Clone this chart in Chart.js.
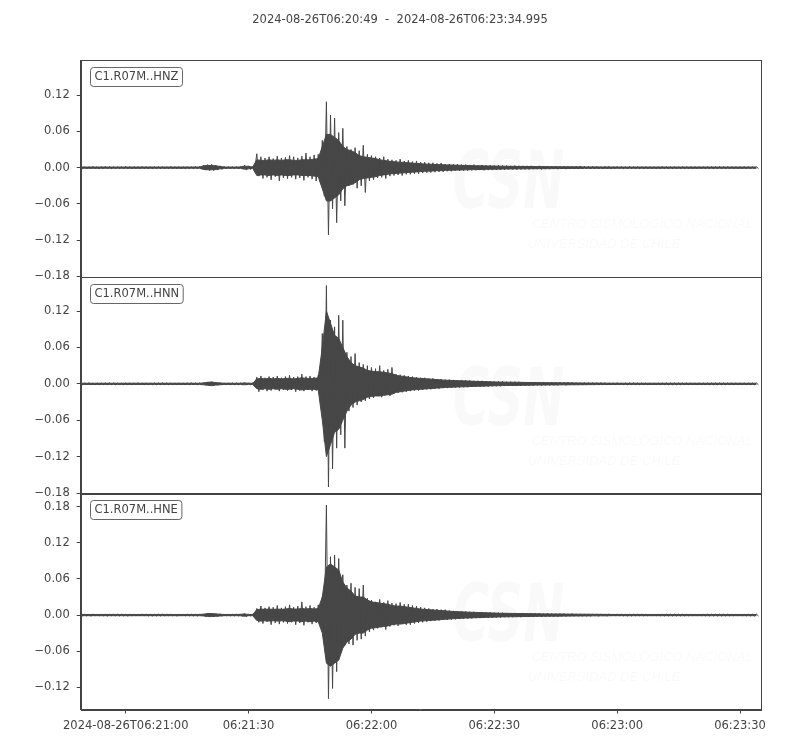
<!DOCTYPE html>
<html>
<head>
<meta charset="utf-8">
<title>C1.R07M seismogram</title>
<script src="https://cdn.jsdelivr.net/npm/chart.js"></script>
<style>
  body { margin: 0; background: #fff; }
  #wrap { width: 800px; height: 750px; }
</style>
</head>
<body>
<div id="wrap"><canvas id="traces" width="800" height="750"></canvas></div>
<script>
// seconds after 2024-08-26T06:20:49
// *Up / *Low: biggest swing up and down in each second
// *Core: half width of the dense part of the trace in that second
const title = '2024-08-26T06:20:49  -  2024-08-26T06:23:34.995';
const traceNames = ['C1.R07M..HNZ', 'C1.R07M..HNN', 'C1.R07M..HNE'];
const xTickSec = [11, 41, 71, 101, 131, 161];
const xTickLabels = ['2024-08-26T06:21:00', '06:21:30', '06:22:00', '06:22:30', '06:23:00', '06:23:30'];
const zTicks = [-0.18, -0.12, -0.06, 0, 0.06, 0.12];
const nTicks = [-0.18, -0.12, -0.06, 0, 0.06, 0.12];
const eTicks = [-0.12, -0.06, 0, 0.06, 0.12, 0.18];

const hnzUp = [
  0.002,0.0015,0.0015,0.002,0.0015,0.0015,0.002,0.0015,0.0015,0.0015,
  0.0015,0.002,0.0015,0.0015,0.0015,0.002,0.0015,0.0015,0.0015,0.0015,
  0.0015,0.0015,0.002,0.0015,0.0015,0.0015,0.0015,0.0015,0.002,0.002,
  0.004,0.005,0.0055,0.004,0.003,0.002,0.0015,0.0015,0.0015,0.002,
  0.004,0.003,0.002,0.023,0.018,0.016,0.018,0.015,0.019,0.016,
  0.017,0.02,0.018,0.016,0.019,0.024,0.018,0.021,0.022,0.045,
  0.109,0.087,0.082,0.058,0.065,0.035,0.03,0.033,0.028,0.037,
  0.022,0.02,0.018,0.016,0.018,0.014,0.013,0.012,0.014,0.011,
  0.012,0.01,0.011,0.009,0.009,0.008,0.008,0.007,0.0075,0.006,
  0.006,0.0055,0.006,0.005,0.005,0.0045,0.005,0.004,0.0045,0.004,
  0.004,0.0035,0.004,0.0035,0.0035,0.003,0.0035,0.003,0.003,0.003,
  0.003,0.0025,0.003,0.0025,0.0025,0.0025,0.0025,0.002,0.0025,0.002,
  0.002,0.002,0.0025,0.002,0.002,0.002,0.002,0.0015,0.002,0.002,
  0.0015,0.002,0.0015,0.0015,0.002,0.0015,0.0015,0.0015,0.0015,0.0015,
  0.0015,0.0015,0.002,0.0015,0.0015,0.0015,0.0015,0.0015,0.0015,0.0015,
  0.0015,0.0015,0.0015,0.0015,0.0015,0.0015,0.002,0.0015,0.0015,0.0015,
  0.0015,0.0015,0.0015,0.0015,0.0015,0.0015
];
const hnzLow = [
  -0.0015,-0.002,-0.0015,-0.0015,-0.002,-0.0015,-0.0015,-0.0015,-0.002,-0.0015,
  -0.0015,-0.0015,-0.002,-0.0015,-0.0015,-0.0015,-0.0015,-0.002,-0.0015,-0.0015,
  -0.002,-0.0015,-0.0015,-0.0015,-0.002,-0.0015,-0.0015,-0.0015,-0.0015,-0.002,
  -0.004,-0.005,-0.005,-0.004,-0.003,-0.002,-0.0015,-0.0015,-0.0015,-0.002,
  -0.004,-0.003,-0.002,-0.014,-0.018,-0.016,-0.02,-0.015,-0.022,-0.017,
  -0.018,-0.016,-0.019,-0.017,-0.021,-0.016,-0.019,-0.022,-0.024,-0.047,
  -0.111,-0.068,-0.091,-0.055,-0.063,-0.03,-0.028,-0.034,-0.03,-0.041,
  -0.022,-0.02,-0.017,-0.016,-0.018,-0.014,-0.013,-0.012,-0.013,-0.011,
  -0.011,-0.01,-0.01,-0.009,-0.0085,-0.008,-0.0075,-0.007,-0.007,-0.006,
  -0.006,-0.0055,-0.0055,-0.005,-0.005,-0.0045,-0.0045,-0.004,-0.0045,-0.004,
  -0.004,-0.0035,-0.0035,-0.0035,-0.003,-0.003,-0.0035,-0.003,-0.003,-0.003,
  -0.0025,-0.0025,-0.003,-0.0025,-0.0025,-0.002,-0.0025,-0.002,-0.0025,-0.002,
  -0.002,-0.002,-0.002,-0.002,-0.002,-0.0015,-0.002,-0.002,-0.0015,-0.002,
  -0.0015,-0.0015,-0.0015,-0.002,-0.0015,-0.0015,-0.0015,-0.0015,-0.0015,-0.0015,
  -0.0015,-0.0015,-0.0015,-0.0015,-0.0015,-0.002,-0.0015,-0.0015,-0.0015,-0.0015,
  -0.0015,-0.0015,-0.0015,-0.0015,-0.0015,-0.0015,-0.0015,-0.0015,-0.0015,-0.0015,
  -0.0015,-0.0015,-0.0015,-0.0015,-0.0015,-0.0015
];
const hnzCore = [
  0.001,0.001,0.001,0.001,0.001,0.001,0.001,0.001,0.001,0.001,
  0.001,0.001,0.001,0.001,0.001,0.001,0.001,0.001,0.001,0.001,
  0.001,0.001,0.001,0.001,0.001,0.001,0.001,0.001,0.001,0.001,
  0.003,0.0035,0.0035,0.003,0.002,0.001,0.001,0.001,0.001,0.0012,
  0.0025,0.002,0.001,0.013,0.012,0.012,0.013,0.012,0.013,0.012,
  0.013,0.013,0.012,0.012,0.013,0.013,0.013,0.014,0.015,0.035,
  0.055,0.055,0.05,0.045,0.035,0.03,0.028,0.025,0.02,0.018,
  0.017,0.016,0.015,0.013,0.012,0.011,0.01,0.0095,0.009,0.0085,
  0.008,0.0075,0.007,0.0065,0.006,0.0058,0.0055,0.005,0.005,0.0045,
  0.0045,0.0042,0.004,0.0038,0.0036,0.0034,0.0032,0.003,0.003,0.0028,
  0.0027,0.0026,0.0025,0.0024,0.0023,0.0022,0.0021,0.002,0.002,0.0019,
  0.0018,0.0018,0.0017,0.0017,0.0016,0.0016,0.0015,0.0015,0.0014,0.0014,
  0.0013,0.0013,0.0013,0.0012,0.0012,0.0012,0.0012,0.0011,0.0011,0.0011,
  0.001,0.001,0.001,0.001,0.001,0.001,0.001,0.001,0.001,0.001,
  0.001,0.001,0.001,0.001,0.001,0.001,0.001,0.001,0.001,0.001,
  0.001,0.001,0.001,0.001,0.001,0.001,0.001,0.001,0.001,0.001,
  0.001,0.001,0.001,0.001,0.001,0.001
];

const hnnUp = [
  0.0015,0.0015,0.002,0.0015,0.0015,0.0015,0.0015,0.002,0.0015,0.0015,
  0.0015,0.0015,0.0015,0.0015,0.002,0.0015,0.0015,0.0015,0.0015,0.0015,
  0.002,0.0015,0.0015,0.0015,0.0015,0.0015,0.0015,0.002,0.0015,0.0015,
  0.002,0.003,0.0035,0.0025,0.002,0.0015,0.0015,0.0015,0.0015,0.0015,
  0.002,0.0015,0.0015,0.011,0.013,0.01,0.012,0.011,0.013,0.01,
  0.012,0.014,0.011,0.012,0.016,0.012,0.013,0.011,0.014,0.083,
  0.162,0.105,0.094,0.113,0.105,0.052,0.045,0.05,0.035,0.032,
  0.03,0.027,0.025,0.03,0.022,0.024,0.027,0.016,0.015,0.014,
  0.013,0.012,0.011,0.01,0.01,0.009,0.009,0.008,0.008,0.007,
  0.007,0.0065,0.006,0.006,0.006,0.0055,0.005,0.005,0.005,0.0045,
  0.0045,0.004,0.004,0.004,0.0035,0.0035,0.0035,0.0035,0.003,0.003,
  0.003,0.003,0.003,0.003,0.0025,0.003,0.0025,0.0025,0.0025,0.0025,
  0.0025,0.002,0.002,0.002,0.002,0.002,0.002,0.002,0.002,0.0015,
  0.0015,0.002,0.0015,0.0015,0.0015,0.002,0.0015,0.0015,0.0015,0.0015,
  0.0015,0.0015,0.0015,0.0015,0.0015,0.0015,0.0015,0.0015,0.0015,0.0015,
  0.0015,0.0015,0.0015,0.0015,0.0015,0.0015,0.0015,0.0015,0.0015,0.0015,
  0.0015,0.0015,0.0015,0.0015,0.0015,0.0015
];
const hnnLow = [
  -0.0015,-0.0015,-0.0015,-0.002,-0.0015,-0.0015,-0.0015,-0.0015,-0.0015,-0.002,
  -0.0015,-0.0015,-0.0015,-0.0015,-0.0015,-0.0015,-0.002,-0.0015,-0.0015,-0.0015,
  -0.0015,-0.0015,-0.002,-0.0015,-0.0015,-0.0015,-0.0015,-0.0015,-0.0015,-0.0015,
  -0.002,-0.003,-0.003,-0.0025,-0.002,-0.0015,-0.0015,-0.0015,-0.0015,-0.0015,
  -0.002,-0.0015,-0.0015,-0.013,-0.01,-0.012,-0.011,-0.009,-0.012,-0.01,
  -0.011,-0.01,-0.013,-0.011,-0.012,-0.01,-0.012,-0.011,-0.014,-0.095,
  -0.17,-0.14,-0.106,-0.084,-0.106,-0.045,-0.039,-0.035,-0.03,-0.028,
  -0.025,-0.023,-0.02,-0.022,-0.018,-0.02,-0.016,-0.015,-0.014,-0.013,
  -0.012,-0.011,-0.011,-0.01,-0.009,-0.009,-0.008,-0.008,-0.007,-0.007,
  -0.0065,-0.006,-0.006,-0.0055,-0.0055,-0.005,-0.005,-0.0045,-0.0045,-0.0045,
  -0.004,-0.004,-0.004,-0.0035,-0.0035,-0.0035,-0.003,-0.0035,-0.003,-0.003,
  -0.003,-0.0025,-0.003,-0.0025,-0.0025,-0.0025,-0.0025,-0.002,-0.0025,-0.002,
  -0.002,-0.002,-0.002,-0.002,-0.0015,-0.002,-0.002,-0.0015,-0.002,-0.0015,
  -0.0015,-0.0015,-0.002,-0.0015,-0.0015,-0.0015,-0.0015,-0.0015,-0.0015,-0.0015,
  -0.0015,-0.0015,-0.0015,-0.0015,-0.0015,-0.0015,-0.0015,-0.0015,-0.0015,-0.0015,
  -0.0015,-0.0015,-0.0015,-0.0015,-0.0015,-0.0015,-0.0015,-0.0015,-0.0015,-0.0015,
  -0.0015,-0.0015,-0.0015,-0.0015,-0.0015,-0.0015
];
const hnnCore = [
  0.001,0.001,0.001,0.001,0.001,0.001,0.001,0.001,0.001,0.001,
  0.001,0.001,0.001,0.001,0.001,0.001,0.001,0.001,0.001,0.001,
  0.001,0.001,0.001,0.001,0.001,0.001,0.001,0.001,0.001,0.001,
  0.0015,0.0025,0.003,0.002,0.0015,0.001,0.001,0.001,0.001,0.001,
  0.0015,0.001,0.001,0.008,0.009,0.008,0.009,0.008,0.009,0.008,
  0.009,0.009,0.008,0.009,0.01,0.009,0.009,0.009,0.01,0.06,
  0.12,0.1,0.08,0.075,0.06,0.045,0.035,0.03,0.028,0.026,
  0.022,0.021,0.02,0.02,0.019,0.018,0.017,0.014,0.013,0.012,
  0.011,0.01,0.0095,0.009,0.0085,0.008,0.0075,0.007,0.0065,0.006,
  0.0058,0.0055,0.0052,0.005,0.0048,0.0045,0.0042,0.004,0.0038,0.0036,
  0.0034,0.0032,0.003,0.0029,0.0028,0.0027,0.0026,0.0025,0.0024,0.0023,
  0.0022,0.0021,0.002,0.002,0.0019,0.0018,0.0018,0.0017,0.0016,0.0016,
  0.0015,0.0015,0.0014,0.0014,0.0013,0.0013,0.0012,0.0012,0.0011,0.0011,
  0.001,0.001,0.001,0.001,0.001,0.001,0.001,0.001,0.001,0.001,
  0.001,0.001,0.001,0.001,0.001,0.001,0.001,0.001,0.001,0.001,
  0.001,0.001,0.001,0.001,0.001,0.001,0.001,0.001,0.001,0.001,
  0.001,0.001,0.001,0.001,0.001,0.001
];

const hneUp = [
  0.0015,0.0015,0.0015,0.002,0.0015,0.0015,0.0015,0.0015,0.002,0.0015,
  0.0015,0.0015,0.0015,0.0015,0.0015,0.002,0.0015,0.0015,0.0015,0.0015,
  0.0015,0.002,0.0015,0.0015,0.0015,0.0015,0.0015,0.0015,0.0015,0.002,
  0.002,0.003,0.003,0.0025,0.002,0.0015,0.0015,0.0015,0.0015,0.002,
  0.0025,0.0015,0.0015,0.011,0.015,0.012,0.014,0.013,0.016,0.012,
  0.014,0.017,0.013,0.015,0.022,0.014,0.016,0.013,0.017,0.03,
  0.183,0.097,0.1,0.094,0.067,0.05,0.053,0.046,0.044,0.05,
  0.028,0.025,0.022,0.026,0.021,0.024,0.02,0.019,0.021,0.018,
  0.018,0.016,0.015,0.013,0.012,0.011,0.01,0.01,0.009,0.009,
  0.0075,0.007,0.0065,0.006,0.006,0.0055,0.0055,0.005,0.005,0.0045,
  0.0045,0.004,0.004,0.004,0.0035,0.0035,0.0035,0.003,0.0035,0.003,
  0.003,0.003,0.003,0.0025,0.003,0.0025,0.0025,0.0025,0.0025,0.002,
  0.0025,0.002,0.002,0.002,0.002,0.002,0.002,0.002,0.0015,0.002,
  0.0015,0.002,0.0015,0.0015,0.0015,0.0015,0.002,0.0015,0.0015,0.0015,
  0.0015,0.0015,0.0015,0.0015,0.0015,0.0015,0.0015,0.0015,0.0015,0.0015,
  0.0015,0.0015,0.0015,0.0015,0.0015,0.0015,0.0015,0.0015,0.0015,0.0015,
  0.0015,0.0015,0.0015,0.0015,0.0015,0.0015
];
const hneLow = [
  -0.0015,-0.0015,-0.002,-0.0015,-0.0015,-0.0015,-0.002,-0.0015,-0.0015,-0.0015,
  -0.0015,-0.002,-0.0015,-0.0015,-0.0015,-0.0015,-0.0015,-0.002,-0.0015,-0.0015,
  -0.0015,-0.0015,-0.0015,-0.002,-0.0015,-0.0015,-0.0015,-0.0015,-0.002,-0.0015,
  -0.002,-0.003,-0.003,-0.0025,-0.002,-0.0015,-0.0015,-0.0015,-0.0015,-0.002,
  -0.0025,-0.0015,-0.0015,-0.012,-0.014,-0.011,-0.016,-0.013,-0.015,-0.012,
  -0.014,-0.012,-0.016,-0.013,-0.017,-0.012,-0.015,-0.013,-0.016,-0.02,
  -0.139,-0.122,-0.094,-0.061,-0.05,-0.048,-0.05,-0.042,-0.04,-0.035,
  -0.028,-0.025,-0.022,-0.02,-0.024,-0.019,-0.017,-0.018,-0.015,-0.016,
  -0.016,-0.014,-0.013,-0.012,-0.011,-0.01,-0.0095,-0.009,-0.008,-0.008,
  -0.0075,-0.007,-0.0065,-0.006,-0.006,-0.0055,-0.005,-0.005,-0.0045,-0.0045,
  -0.0045,-0.004,-0.004,-0.0035,-0.0035,-0.0035,-0.003,-0.0035,-0.003,-0.003,
  -0.003,-0.0025,-0.003,-0.0025,-0.0025,-0.0025,-0.0025,-0.002,-0.0025,-0.002,
  -0.002,-0.002,-0.002,-0.002,-0.002,-0.0015,-0.002,-0.0015,-0.002,-0.0015,
  -0.0015,-0.0015,-0.0015,-0.002,-0.0015,-0.0015,-0.0015,-0.0015,-0.0015,-0.0015,
  -0.0015,-0.0015,-0.0015,-0.0015,-0.0015,-0.0015,-0.0015,-0.0015,-0.0015,-0.0015,
  -0.0015,-0.0015,-0.0015,-0.0015,-0.0015,-0.0015,-0.0015,-0.0015,-0.0015,-0.0015,
  -0.0015,-0.0015,-0.0015,-0.0015,-0.0015,-0.0015
];
const hneCore = [
  0.001,0.001,0.001,0.001,0.001,0.001,0.001,0.001,0.001,0.001,
  0.001,0.001,0.001,0.001,0.001,0.001,0.001,0.001,0.001,0.001,
  0.001,0.001,0.001,0.001,0.001,0.001,0.001,0.001,0.001,0.001,
  0.0015,0.0025,0.0025,0.002,0.0015,0.001,0.001,0.001,0.001,0.0012,
  0.002,0.001,0.001,0.009,0.01,0.0095,0.01,0.0095,0.01,0.0095,
  0.01,0.011,0.01,0.01,0.011,0.01,0.011,0.01,0.011,0.03,
  0.08,0.085,0.08,0.075,0.055,0.045,0.04,0.032,0.03,0.03,
  0.025,0.022,0.021,0.02,0.019,0.018,0.016,0.015,0.015,0.014,
  0.013,0.012,0.011,0.01,0.0095,0.009,0.0085,0.008,0.0075,0.007,
  0.0065,0.006,0.0057,0.0054,0.005,0.0048,0.0045,0.0043,0.004,0.0038,
  0.0036,0.0034,0.0032,0.003,0.0029,0.0028,0.0027,0.0026,0.0025,0.0024,
  0.0023,0.0022,0.0021,0.002,0.002,0.0019,0.0018,0.0018,0.0017,0.0016,
  0.0016,0.0015,0.0015,0.0014,0.0014,0.0013,0.0013,0.0012,0.0012,0.0011,
  0.001,0.001,0.001,0.001,0.001,0.001,0.001,0.001,0.001,0.001,
  0.001,0.001,0.001,0.001,0.001,0.001,0.001,0.001,0.001,0.001,
  0.001,0.001,0.001,0.001,0.001,0.001,0.001,0.001,0.001,0.001,
  0.001,0.001,0.001,0.001,0.001,0.001
];

const FONT = 'DejaVu Sans';
const INK = '#444444';
const WAVE = '#474747';

function series(vals, sign) {
  return vals.map((v, i) => ({x: i, y: sign * v}));
}

// needle line: the up value on the full second, the low one half a second on
function zigzag(up, low) {
  const pts = [];
  for (let i = 0; i < up.length; i++) {
    pts.push({x: i, y: up[i]});
    pts.push({x: i + 0.5, y: low[i]});
  }
  return pts;
}

function traceSets(up, low, core, axis) {
  const common = {
    yAxisID: axis,
    borderColor: WAVE,
    backgroundColor: WAVE,
    borderWidth: 1,
    pointRadius: 0,
    tension: 0
  };
  return [
    Object.assign({data: zigzag(up, low), fill: false}, common),
    // dense middle of the trace, filled between +core and -core
    Object.assign({data: series(core, 1), fill: '+1'}, common),
    Object.assign({data: series(core, -1), fill: false}, common)
  ];
}

function yAxis(lo, hi, ticks, weight) {
  return {
    type: 'linear',
    position: 'left',
    stack: 'traces',
    stackWeight: 1,
    weight: weight,
    min: lo,
    max: hi,
    afterFit: function(s) { s.width = 80.7; },
    afterBuildTicks: function(s) { s.ticks = ticks.map(v => ({value: v})); },
    border: {color: INK, width: 1},
    grid: {drawOnChartArea: false, tickLength: 4, color: INK},
    ticks: {
      padding: 7,
      color: INK,
      font: {family: FONT, size: 11.5},
      callback: v => v.toFixed(2).replace('-', '\u2212')
    }
  };
}

// boxes, channel labels, title and the faint logo text
const panelDecor = {
  id: 'panelDecor',
  beforeDatasetsDraw(chart) {
    const ctx = chart.ctx;
    const ca = chart.chartArea;
    ctx.save();
    ctx.fillStyle = 'rgba(0,0,0,0.022)';
    ['yZ', 'yN', 'yE'].forEach(id => {
      const s = chart.scales[id];
      ctx.save();
      ctx.translate(ca.left + 372, s.top + 148);
      ctx.scale(0.62, 1);
      ctx.font = 'italic bold 80px "DejaVu Sans"';
      ctx.fillText('CSN', 0, 0);
      ctx.restore();
      ctx.font = 'italic 13px "Liberation Sans"';
      ctx.fillText('CENTRO SISMOLÓGICO NACIONAL', ca.left + 451, s.top + 168);
      ctx.fillText('UNIVERSIDAD DE CHILE', ca.left + 447, s.top + 188);
    });
    ctx.restore();
  },
  afterDraw(chart) {
    const ctx = chart.ctx;
    const ca = chart.chartArea;
    ctx.save();
    ctx.strokeStyle = INK;
    ctx.lineWidth = 1;
    ['yZ', 'yN', 'yE'].forEach((id, i) => {
      const s = chart.scales[id];
      ctx.strokeRect(Math.round(ca.left) + 0.5, Math.round(s.top) + 0.5,
        Math.round(ca.right - ca.left), Math.round(s.bottom - s.top));

      ctx.font = '11.5px "' + FONT + '"';
      const w = ctx.measureText(traceNames[i]).width;
      const bx = Math.round(ca.left) + 9.5, by = Math.round(s.top) + 7.5;
      ctx.beginPath();
      ctx.roundRect(bx, by, w + 8, 19, 3);
      ctx.fillStyle = '#fff';
      ctx.fill();
      ctx.strokeStyle = '#666';
      ctx.stroke();
      ctx.fillStyle = INK;
      ctx.textBaseline = 'middle';
      ctx.fillText(traceNames[i], bx + 4, by + 10);
      ctx.strokeStyle = INK;
    });
    ctx.textAlign = 'center';
    ctx.textBaseline = 'middle';
    ctx.fillStyle = INK;
    ctx.font = '11.5px "' + FONT + '"';
    ctx.fillText(title, 400, 20);
    ctx.restore();
  }
};

const ctx = document.getElementById('traces').getContext('2d');
new Chart(ctx, {
  type: 'line',
  data: {
    datasets: [].concat(
      traceSets(hnzUp, hnzLow, hnzCore, 'yZ'),
      traceSets(hnnUp, hnnLow, hnnCore, 'yN'),
      traceSets(hneUp, hneLow, hneCore, 'yE')
    )
  },
  options: {
    responsive: false,
    animation: false,
    devicePixelRatio: 1,
    layout: {padding: {top: 60, right: 39.5, left: 0, bottom: 0}},
    plugins: {legend: {display: false}, tooltip: {enabled: false}, title: {display: false}},
    scales: {
      x: {
        type: 'linear',
        min: 0,
        max: 165.995,
        afterFit: function(s) { s.height = 40.5; },
        afterBuildTicks: function(s) { s.ticks = xTickSec.map(v => ({value: v})); },
        border: {color: INK, width: 1},
        grid: {drawOnChartArea: false, tickLength: 4, color: INK},
        ticks: {
          padding: 6,
          color: INK,
          maxRotation: 0,
          autoSkip: false,
          font: {family: FONT, size: 11.5},
          callback: (v, i) => xTickLabels[i]
        }
      },
      yE: yAxis(-0.157, 0.203, eTicks, 1),
      yN: yAxis(-0.18, 0.177, nTicks, 2),
      yZ: yAxis(-0.18, 0.178, zTicks, 3)
    }
  },
  plugins: [panelDecor]
});
</script>
</body>
</html>
